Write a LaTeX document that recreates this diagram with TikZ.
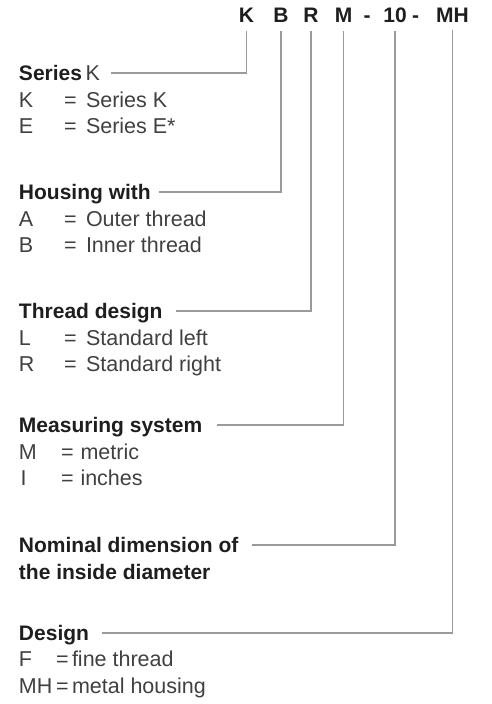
\documentclass[tikz,border=0pt]{standalone}
\usepackage{fontspec}
\setmainfont{Liberation Sans}
\definecolor{txt}{HTML}{404040}
\definecolor{hdr}{HTML}{1E1E1E}
\definecolor{ln}{HTML}{9A9A9A}
\begin{document}
\begin{tikzpicture}[x=1pt,y=-1pt,
  every node/.style={inner sep=0pt, outer sep=0pt, anchor=base west,
    font=\fontsize{21.5}{25}\selectfont},
  head/.style={anchor=base, font=\fontsize{21}{25}\selectfont\bfseries, text=hdr},
  lbl/.style={font=\fontsize{21}{25}\selectfont\bfseries, text=hdr},
  val/.style={text=txt},
  lead/.style={draw=ln, line width=1.2pt}]
\useasboundingbox (0,0) rectangle (491,704);

% header code
\node[head] (hK)  at (246.5,22.5) {K};
\node[head] (hB)  at (281,22.5) {B};
\node[head] (hR)  at (311,22.5) {R};
\node[head] (hM)  at (343.5,22.5) {M};
\node[head] (hd1) at (367,22.5) {-};
\node[head] (h10) at (395,22.5) {10};
\node[head] (hd2) at (415.5,22.5) {-};
\node[head] (hMH) at (452.5,22.5) {MH};

% Series
\node[lbl] (sK) at (19,80.5) {Series\,\textmd{\color{txt}\fontsize{21.5}{25}\selectfont K}};
\node[val] (k1) at (19,107.5) {K};
\node[val] (k1e) at (64,107.5) {=};
\node[val] (k1t) at (86,107.5) {Series K};
\node[val] (k2) at (19,133.5) {E};
\node[val] (k2e) at (64,133.5) {=};
\node[val] (k2t) at (86,133.5) {Series E*};

% Housing
\node[lbl] (sB) at (19,199.5) {Housing with};
\node[val] (b1) at (19,226.5) {A};
\node[val] (b1e) at (64,226.5) {=};
\node[val] (b1t) at (86,226.5) {Outer thread};
\node[val] (b2) at (19,252.5) {B};
\node[val] (b2e) at (64,252.5) {=};
\node[val] (b2t) at (86,252.5) {Inner thread};

% Thread design
\node[lbl] (sR) at (19,318.5) {Thread design};
\node[val] (r1) at (19,345.5) {L};
\node[val] (r1e) at (64,345.5) {=};
\node[val] (r1t) at (86,345.5) {Standard left};
\node[val] (r2) at (19,371.5) {R};
\node[val] (r2e) at (64,371.5) {=};
\node[val] (r2t) at (86,371.5) {Standard right};

% Measuring system
\node[lbl] (sM) at (19,432.5) {Measuring system};
\node[val] (m1) at (19,459.5) {M};
\node[val] (m1e) at (61,459.5) {=};
\node[val] (m1t) at (80.5,459.5) {metric};
\node[val] (m2) at (20.5,485.5) {I};
\node[val] (m2e) at (61,485.5) {=};
\node[val] (m2t) at (80.5,485.5) {inches};

% Nominal
\node[lbl] (s10) at (19,552.5) {Nominal dimension of};
\node[lbl] (s10b) at (19,579.5) {the inside diameter};

% Design
\node[lbl] (sMH) at (19,640.5) {Design};
\node[val] (d1) at (19,666.5) {F};
\node[val] (d1e) at (56,666.5) {=};
\node[val] (d1t) at (72,666.5) {fine thread};
\node[val] (d2) at (19,693.5) {MH};
\node[val] (d2e) at (56,693.5) {=};
\node[val] (d2t) at (72,693.5) {metal housing};

% line ends at the labels
\coordinate (eK)  at (111,73);
\coordinate (eB)  at (159,192);
\coordinate (eR)  at (176,311);
\coordinate (eM)  at (217,425);
\coordinate (e10) at (252,545);
\coordinate (eMH) at (102,633);

\draw[lead] ([yshift=-8.5pt]hK.base)  |- (eK);
\draw[lead] ([yshift=-8.5pt]hB.base)  |- (eB);
\draw[lead] ([yshift=-8.5pt]hR.base)  |- (eR);
\draw[lead] ([yshift=-8.5pt]hM.base)  |- (eM);
\draw[lead] ([yshift=-8.5pt]h10.base) |- (e10);
\draw[lead] ([yshift=-7pt]hMH.base)   |- (eMH);
\end{tikzpicture}
\end{document}
